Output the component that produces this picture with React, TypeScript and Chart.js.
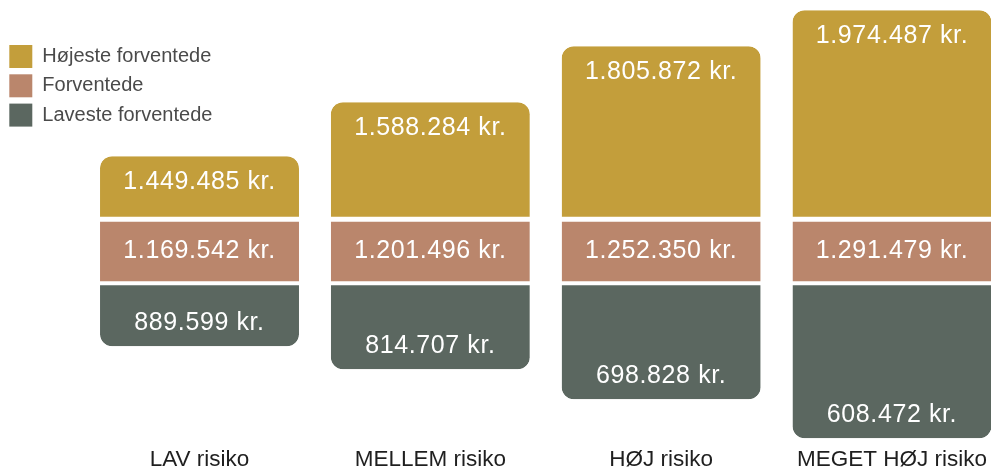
import React, { useEffect, useRef } from 'react';
import { Chart, registerables } from 'chart.js';

Chart.register(...registerables);

const categories = ['LAV risiko', 'MELLEM risiko', 'HØJ risiko', 'MEGET HØJ risiko'];
const seriesNames = ['Højeste forventede', 'Forventede', 'Laveste forventede'];
const highest = [1449485, 1588284, 1805872, 1974487];
const expected = [1169542, 1201496, 1252350, 1291479];
const lowest = [889599, 814707, 698828, 608472];
// Drawn segment heights (the original graphic is not to scale)
const upperSpan = [63, 117, 173, 209];
const middleSpan = [64, 64, 64, 64];
const lowerSpan = [63, 86, 116, 155];
const seriesColors = ['#C39E3B', '#BA866C', '#5B6760'];

const FONT = "'Liberation Sans', Arial, sans-serif";

const formatKr = (v: number) => String(v).replace(/\B(?=(\d{3})+(?!\d))/g, '.') + ' kr.';

const valueLabels = {
  id: 'valueLabels',
  afterDatasetsDraw(chart: any) {
    const ctx = chart.ctx;
    const sets = [highest, expected, lowest];
    ctx.save();
    ctx.fillStyle = '#ffffff';
    ctx.font = `25px ${FONT}`;
    (ctx as any).letterSpacing = '0.6px';
    ctx.textAlign = 'center';
    ctx.textBaseline = 'middle';
    sets.forEach((vals, d) => {
      const meta = chart.getDatasetMeta(d);
      meta.data.forEach((el: any, i: number) => {
        const { x, y, base } = el.getProps(['x', 'y', 'base'], true);
        const top = Math.min(y, base);
        const bottom = Math.max(y, base);
        const ty = d === 0 ? top + 25.5 : d === 1 ? (top + bottom) / 2 : bottom - 23.5;
        ctx.fillText(formatKr(vals[i]), x, ty);
      });
    });
    ctx.restore();
  },
};

export default function App() {
  const canvasRef = useRef<HTMLCanvasElement | null>(null);

  useEffect(() => {
    if (!canvasRef.current) return;
    const upper = categories.map((_, i) => ({ x: i, y: [middleSpan[i] / 2, middleSpan[i] / 2 + upperSpan[i]] }));
    const middle = categories.map((_, i) => ({ x: i, y: [-middleSpan[i] / 2, middleSpan[i] / 2] }));
    const lower = categories.map((_, i) => ({ x: i, y: [-middleSpan[i] / 2 - lowerSpan[i], -middleSpan[i] / 2] }));

    const chart = new Chart(canvasRef.current, {
      type: 'bar',
      data: {
        datasets: [
          {
            label: seriesNames[0],
            data: upper as any,
            backgroundColor: seriesColors[0],
            borderColor: '#ffffff',
            borderWidth: { top: 0, left: 0, right: 0, bottom: 2.5 },
            borderRadius: { topLeft: 12, topRight: 12, bottomLeft: 0, bottomRight: 0 },
          },
          {
            label: seriesNames[1],
            data: middle as any,
            backgroundColor: seriesColors[1],
            borderColor: '#ffffff',
            borderWidth: { top: 2.5, left: 0, right: 0, bottom: 2 },
            borderRadius: 0,
          },
          {
            label: seriesNames[2],
            data: lower as any,
            backgroundColor: seriesColors[2],
            borderColor: '#ffffff',
            borderWidth: { top: 2, left: 0, right: 0, bottom: 0 },
            borderRadius: { topLeft: 0, topRight: 0, bottomLeft: 12, bottomRight: 12 },
          },
        ] as any,
      },
      options: {
        animation: false,
        responsive: true,
        maintainAspectRatio: false,
        layout: { padding: { left: 3, right: 0, top: 0, bottom: 0 } },
        datasets: {
          bar: {
            grouped: false,
            categoryPercentage: 0.862,
            barPercentage: 1,
            borderSkipped: false,
          },
        } as any,
        scales: {
          x: {
            type: 'linear',
            offset: false,
            min: -0.8513,
            max: 3.4289,
            grid: { display: false, drawTicks: false },
            border: { display: false },
            ticks: {
              stepSize: 1,
              includeBounds: false,
              autoSkip: false,
              maxRotation: 0,
              padding: 0,
              color: '#1f1f1f',
              font: { family: FONT, size: 22.5 },
              callback: (v: any) => categories[v] ?? '',
            },
          },
          y: {
            display: false,
            min: -194.8,
            max: 251.2,
          },
        } as any,
        plugins: {
          legend: {
            position: 'chartArea',
            align: 'start',
            title: {
              display: true,
              text: '',
              padding: { top: 26.7, bottom: 0 },
              font: { size: 10, lineHeight: 1.2 },
            },
            labels: {
              boxWidth: 23,
              boxHeight: 23,
              padding: 6.3,
              color: '#4a4a4a',
              font: { family: FONT, size: 20 },
              generateLabels: (c: any) =>
                (Chart.defaults as any).plugins.legend.labels
                  .generateLabels(c)
                  .map((l: any) => ({ ...l, lineWidth: 0 })),
            },
          },
          tooltip: { enabled: false },
        } as any,
      },
      plugins: [valueLabels],
    });
    return () => chart.destroy();
  }, []);

  return (
    <div style={{ position: 'fixed', left: 0, top: 0, width: 991, height: 473, background: '#ffffff' }}>
      <canvas ref={canvasRef} />
    </div>
  );
}
